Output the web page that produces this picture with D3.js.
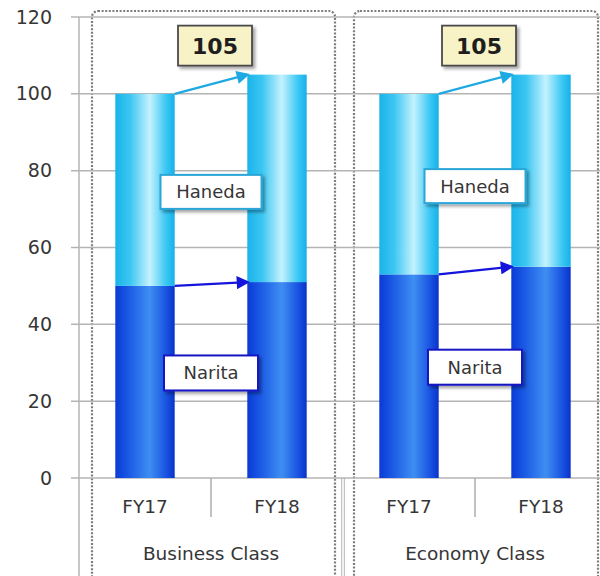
<!DOCTYPE html>
<html>
<head>
<meta charset="utf-8">
<script src="https://cdn.jsdelivr.net/npm/d3@7"></script>
<style>
  html, body { margin: 0; padding: 0; background: #fff; overflow: hidden; }
  svg { display: block; font-family: "DejaVu Sans", Verdana, sans-serif; }
</style>
</head>
<body>
<svg id="chart" width="600" height="576"></svg>
<script>
// Passenger index by cabin class (FY17 = 100), split into airports
const groups = ["Business Class", "Economy Class"];
const years = ["FY17", "FY18"];
const narita = [[50, 51], [53, 55]];     // per group: FY17, FY18
const haneda = [[50, 54], [47, 50]];
const totalLabels = ["105", "105"];
const yTicks = [0, 20, 40, 60, 80, 100, 120];

const textColor = "#363636";
const svg = d3.select("#chart");
const defs = svg.append("defs");

// horizontal cylinder-like gradients for the bars
function barGradient(id, stops) {
  const g = defs.append("linearGradient").attr("id", id)
    .attr("x1", "0%").attr("x2", "100%").attr("y1", "0%").attr("y2", "0%");
  stops.forEach(([o, c]) => g.append("stop").attr("offset", o).attr("stop-color", c));
}
barGradient("gHaneda", [["0%", "#19b4ea"], ["25%", "#3cc6f2"], ["58%", "#c4f2fe"], ["85%", "#3cc8f4"], ["100%", "#16b0e8"]]);
barGradient("gNarita", [["0%", "#0a3ad6"], ["25%", "#1d5ee6"], ["58%", "#3f8ef2"], ["85%", "#1a55e2"], ["100%", "#0a32cc"]]);

function arrowMarker(id, color) {
  defs.append("marker").attr("id", id)
    .attr("viewBox", "0 0 10 10").attr("refX", 8).attr("refY", 5)
    .attr("markerWidth", 7).attr("markerHeight", 6)
    .attr("markerUnits", "strokeWidth").attr("orient", "auto")
    .append("path").attr("d", "M0,0 L10,5 L0,10 Z").attr("fill", color);
}
arrowMarker("aHaneda", "#1fa9e2");
arrowMarker("aNarita", "#1414dc");

const shadow = defs.append("filter").attr("id", "shadow")
  .attr("x", "-20%").attr("y", "-20%").attr("width", "150%").attr("height", "160%");
shadow.append("feDropShadow").attr("dx", 2.5).attr("dy", 2.5).attr("stdDeviation", 1.5)
  .attr("flood-color", "#000").attr("flood-opacity", 0.35);

// scales
const y = d3.scaleLinear().domain([0, 120]).range([478, 17]);
const x0 = d3.scaleBand().domain(groups).range([79, 607]);
const x1 = d3.scaleBand().domain(years).range([0, x0.bandwidth()])
  .paddingInner(0.55).paddingOuter(0.275);

// dotted group frames
groups.forEach((g, i) => {
  const left = i === 0 ? x0(g) + 13 : x0(g) + 11;
  const right = i === 0 ? x0(g) + x0.bandwidth() - 8 : 598;
  svg.append("rect")
    .attr("x", left).attr("y", 11)
    .attr("width", right - left).attr("height", 600)
    .attr("rx", 6)
    .attr("fill", "none").attr("stroke", "#7c7c7c")
    .attr("stroke-width", 2.2).attr("stroke-dasharray", "2,1.6");
});

// gridlines
svg.append("g").selectAll("line").data(yTicks).join("line")
  .attr("x1", 71).attr("x2", 607)
  .attr("y1", d => y(d)).attr("y2", d => y(d))
  .attr("stroke", "#b4b4b4").attr("stroke-width", 1.5);

// y axis
const yAxis = svg.append("g").attr("transform", "translate(79,0)")
  .call(d3.axisLeft(y).tickValues(yTicks).tickSize(0).tickPadding(27));
yAxis.select(".domain").remove();
yAxis.selectAll("text").attr("font-size", 19).attr("fill", textColor)
  .attr("font-family", "DejaVu Sans, Verdana, sans-serif");
svg.append("line").attr("x1", 79).attr("x2", 79).attr("y1", y(120)).attr("y2", 576)
  .attr("stroke", "#b4b4b4").attr("stroke-width", 1.5);

// category separators
groups.forEach((g, i) => {
  const mid = x0(g) + x0.bandwidth() / 2;
  svg.append("line").attr("x1", mid).attr("x2", mid).attr("y1", y(0)).attr("y2", 517)
    .attr("stroke", "#acacac").attr("stroke-width", 1.5);
  if (i > 0) {
    [-1.3, 1.3].forEach(dx => svg.append("line")
      .attr("x1", x0(g) + dx).attr("x2", x0(g) + dx).attr("y1", y(0)).attr("y2", 576)
      .attr("stroke", "#b4b4b4").attr("stroke-width", 1));
  }
});

// bars
groups.forEach((g, gi) => {
  const gx = x0(g);
  years.forEach((yr, yi) => {
    const n = narita[gi][yi], h = haneda[gi][yi];
    const bx = gx + x1(yr), bw = x1.bandwidth();
    svg.append("rect").attr("x", bx).attr("width", bw)
      .attr("y", y(n)).attr("height", y(0) - y(n)).attr("fill", "url(#gNarita)");
    svg.append("rect").attr("x", bx).attr("width", bw)
      .attr("y", y(n + h)).attr("height", y(n) - y(n + h)).attr("fill", "url(#gHaneda)");
  });

  // x labels
  years.forEach(yr => {
    svg.append("text").attr("x", gx + x1(yr) + x1.bandwidth() / 2).attr("y", 513)
      .attr("text-anchor", "middle").attr("font-size", 18.5).attr("fill", textColor)
      .text(yr);
  });
  svg.append("text").attr("x", gx + x0.bandwidth() / 2).attr("y", 560)
    .attr("text-anchor", "middle").attr("font-size", 18.5).attr("fill", textColor)
    .text(g);

  // arrows between years
  const xa = gx + x1("FY17") + x1.bandwidth();
  const xb = gx + x1("FY18");
  const t17 = narita[gi][0] + haneda[gi][0], t18 = narita[gi][1] + haneda[gi][1];
  svg.append("line").attr("x1", xa).attr("y1", y(t17)).attr("x2", xb).attr("y2", y(t18))
    .attr("stroke", "#1fa9e2").attr("stroke-width", 2.2).attr("marker-end", "url(#aHaneda)");
  svg.append("line").attr("x1", xa).attr("y1", y(narita[gi][0])).attr("x2", xb).attr("y2", y(narita[gi][1]))
    .attr("stroke", "#1414dc").attr("stroke-width", 2.2).attr("marker-end", "url(#aNarita)");

  // segment name boxes
  const mid = gx + x0.bandwidth() / 2;
  const hy = y(narita[gi][0] + haneda[gi][0] / 2) + 2;
  const ny = y(narita[gi][0] / 2) - 9;
  [[hy, "Haneda", 101, 34, "#2aa6d8"], [ny, "Narita", 94, 35, "#1515c4"]].forEach(([cy, txt, w, hgt, col]) => {
    svg.append("rect").attr("x", mid - w / 2).attr("y", cy - hgt / 2)
      .attr("width", w).attr("height", hgt)
      .attr("fill", "#fff").attr("stroke", col).attr("stroke-width", 2)
      .attr("filter", "url(#shadow)");
    svg.append("text").attr("x", mid).attr("y", cy + 6.5)
      .attr("text-anchor", "middle").attr("font-size", 18).attr("fill", textColor)
      .text(txt);
  });

  // total value callout
  const bx = mid + 4, by = y(t18) - 49;
  svg.append("rect").attr("x", bx - 37).attr("y", by).attr("width", 74).attr("height", 40)
    .attr("fill", "#f8f3c6").attr("stroke", "#4a4a4a").attr("stroke-width", 1.8)
    .attr("filter", "url(#shadow)");
  svg.append("text").attr("x", bx).attr("y", by + 28)
    .attr("text-anchor", "middle").attr("font-size", 22).attr("font-weight", "bold")
    .attr("fill", "#1e1e1e").text(totalLabels[gi]);
});
</script>
</body>
</html>
